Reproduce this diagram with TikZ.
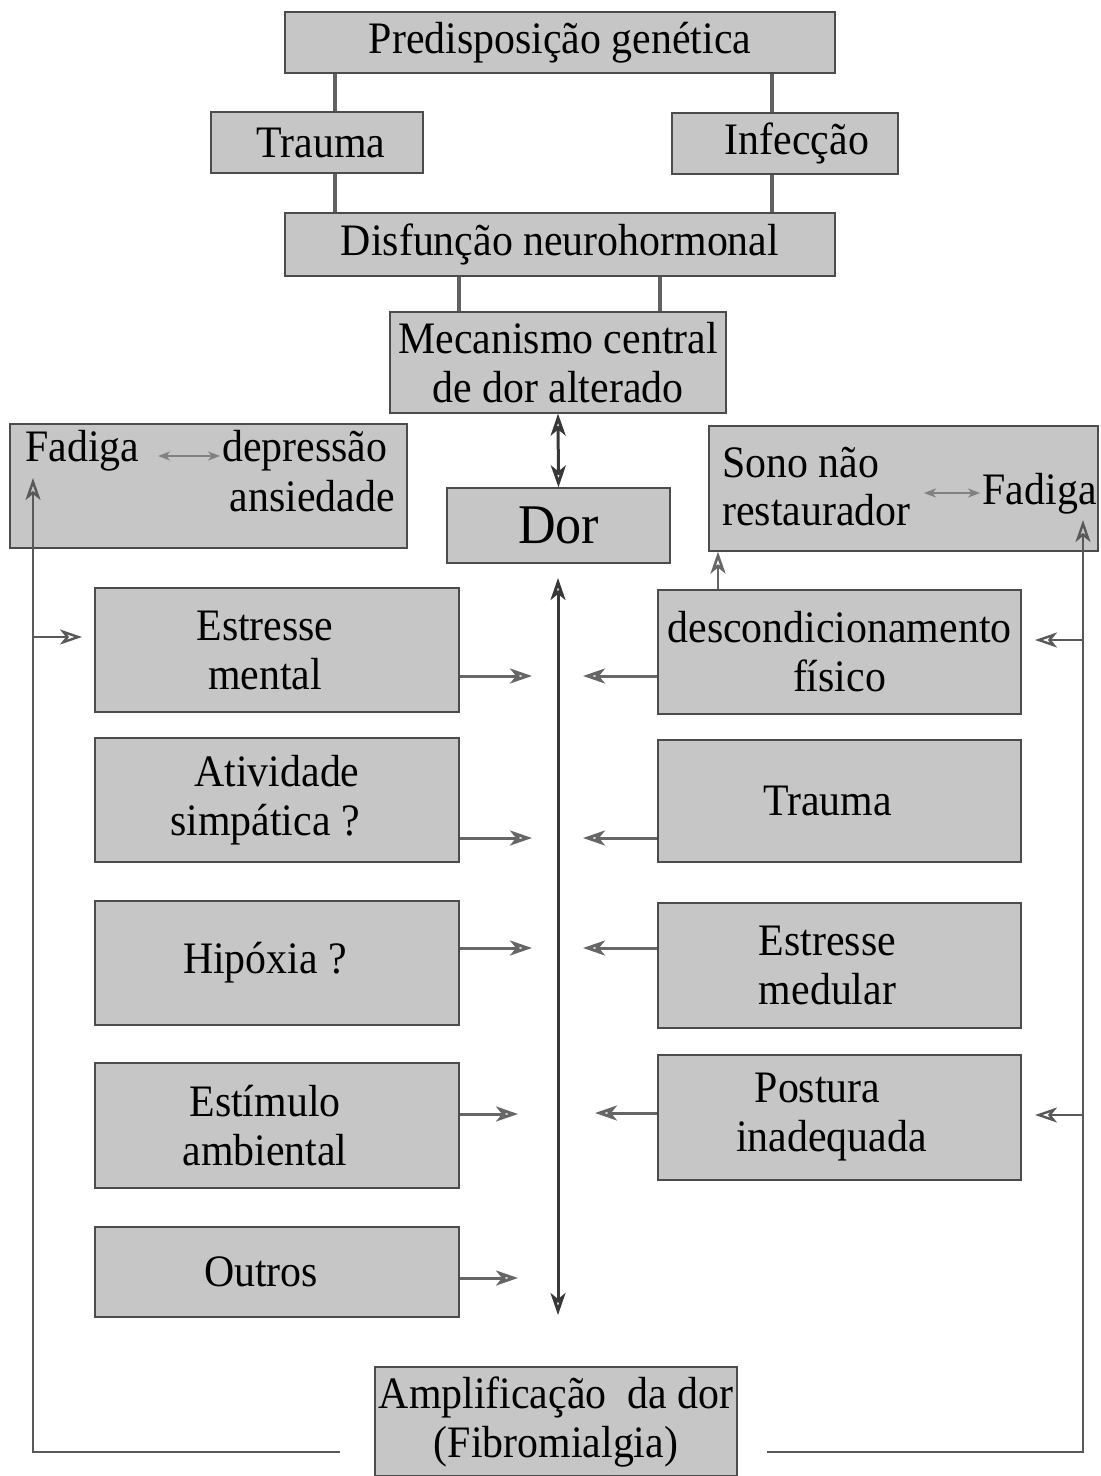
\documentclass[tikz,border=0pt]{standalone}
\usepackage{fontspec}
\setmainfont[FakeStretch=0.93]{Liberation Serif}
\usetikzlibrary{arrows.meta}
\begin{document}
\begin{tikzpicture}[x=0.5pt,y=-0.5pt,
  box/.style={draw=black!70, line width=0.6pt, fill=gray!45, inner sep=0pt, align=center,
              font=\fontsize{22.5}{24.5}\selectfont},
  txt/.style={inner sep=0pt, font=\fontsize{22.5}{24.5}\selectfont},
  link/.style={draw=black!62, line width=2.2pt},
  tip/.style={Stealth[open,length=11pt,width=7.5pt,inset=3pt]},
  stip/.style={Stealth[open,length=6pt,width=4.5pt,inset=1.8pt]},
  arr/.style={draw=black!60, line width=1.5pt, -{Stealth[open,length=11pt,width=7.5pt,inset=3pt]}},
  darr/.style={draw=black!78, line width=1.5pt, {Stealth[open,length=11pt,width=7.5pt,inset=3pt]}-{Stealth[open,length=11pt,width=7.5pt,inset=3pt]}},
  sdarr/.style={draw=black!50, line width=1.1pt, {Stealth[open,length=6pt,width=4.5pt,inset=1.8pt]}-{Stealth[open,length=6pt,width=4.5pt,inset=1.8pt]}},
  fb/.style={draw=black!65, line width=1.2pt},
  fbarr/.style={fb, -{Stealth[open,length=11pt,width=7.5pt,inset=3pt]}}
]
\useasboundingbox (0,0) rectangle (1100,1476);

% top chain
\node[box, minimum width=275pt, minimum height=30.5pt] (pred) at (560,42.5) {Predisposição genética};
\node[box, minimum width=106pt, minimum height=30.5pt] (trauma1) at (317,142.5) {\hspace*{4pt}Trauma};
\node[box, minimum width=113pt, minimum height=30.5pt] (infec) at (785,143.5) {\hspace*{12pt}Infecção};
\node[box, minimum width=275pt, minimum height=31.5pt] (disf) at (560,244.5) {Disfunção neurohormonal};
\node[box, minimum width=168pt, minimum height=50.5pt] (mec) at (558,362.5) {Mecanismo central\\de dor alterado};
\node[box, minimum width=111.5pt, minimum height=37.5pt, font=\fontsize{28}{30}\selectfont] (dor) at (558.5,525.5) {Dor};

\draw[link] (pred.south -| 335,0) -- (trauma1.north -| 335,0);
\draw[link] (trauma1.south -| 335,0) -- (disf.north -| 335,0);
\draw[link] (pred.south -| 772,0) -- (infec.north -| 772,0);
\draw[link] (infec.south -| 772,0) -- (disf.north -| 772,0);
\draw[link] (disf.south -| 459,0) -- (mec.north -| 459,0);
\draw[link] (disf.south -| 660,0) -- (mec.north -| 660,0);
\draw[darr] (mec.south) -- (dor.north);

% side boxes
\node[box, minimum width=198.5pt, minimum height=62pt] (fadl) at (208.5,486) {};
\node[txt, anchor=base west] (fadlA) at (25,461) {Fadiga};
\node[txt, anchor=base west] (fadlB) at (222,461) {depressão};
\node[txt, anchor=base east] (fadlC) at (395,511) {ansiedade};
\coordinate (fa1) at (158,456);
\coordinate (fa2) at (220,456);
\draw[sdarr] (fa1) -- (fa2);

\node[box, minimum width=194.5pt, minimum height=62.5pt] (sono) at (903.5,488.5) {};
\node[txt, anchor=base west] (sonoA) at (722,477) {Sono não};
\node[txt, anchor=base west] (sonoB) at (722,525) {restaurador};
\node[txt, anchor=base east] (sonoC) at (1097,504) {Fadiga};
\coordinate (sa1) at (924,493);
\coordinate (sa2) at (980,493);
\draw[sdarr] (sa1) -- (sa2);

% left column
\node[box, minimum width=182pt, minimum height=62pt] (estm) at (277,650) {\raisebox{-8pt}{\parbox{150pt}{\centering Estresse\\mental}}\hspace*{12pt}};
\node[box, minimum width=182pt, minimum height=62pt] (ativ) at (277,800) {Atividade\\simpática ?\hspace*{12pt}};
\node[box, minimum width=182pt, minimum height=62pt] (hipo) at (277,963) {Hipóxia ?\hspace*{12pt}};
\node[box, minimum width=182pt, minimum height=62.5pt] (estim) at (277,1125.5) {Estímulo\hspace*{12pt}\\ambiental\hspace*{12pt}};
\node[box, minimum width=182pt, minimum height=45pt] (outros) at (277,1272) {Outros\hspace*{16pt}};

% right column
\node[box, minimum width=181.5pt, minimum height=62pt] (desc) at (839.5,652) {descondicionamento\\físico};
\node[box, minimum width=181.5pt, minimum height=61pt] (trauma2) at (839.5,801) {Trauma\hspace*{12pt}};
\node[box, minimum width=181.5pt, minimum height=62.5pt] (estmed) at (839.5,965.5) {Estresse\hspace*{12pt}\\medular\hspace*{12pt}};
\node[box, minimum width=181.5pt, minimum height=62.5pt] (post) at (839.5,1117.5) {Postura\hspace*{22pt}\\inadequada\hspace*{8pt}};

% bottom
\node[box, minimum width=181pt, minimum height=54.5pt] (ampl) at (556,1421.5) {Amplificação\ \ da dor\\(Fibromialgia)};

% central vertical arrow
\coordinate (ct) at (558,578);
\coordinate (cb) at (558,1315);
\draw[darr] (ct) -- (cb);

% horizontal arrows to the centre
\coordinate (l1) at (532,676);
\coordinate (l2) at (532,838);
\coordinate (l3) at (532,948);
\coordinate (l4) at (518,1114);
\coordinate (l5) at (518,1278);
\draw[arr] (estm.east |- l1) -- (l1);
\draw[arr] (ativ.east |- l2) -- (l2);
\draw[arr] (hipo.east |- l3) -- (l3);
\draw[arr] (estim.east |- l4) -- (l4);
\draw[arr] (outros.east |- l5) -- (l5);

\coordinate (r1) at (583,676);
\coordinate (r2) at (583,838);
\coordinate (r3) at (583,948);
\coordinate (r4) at (595,1113);
\draw[arr] (desc.west |- r1) -- (r1);
\draw[arr] (trauma2.west |- r2) -- (r2);
\draw[arr] (estmed.west |- r3) -- (r3);
\draw[arr] (post.west |- r4) -- (r4);

% descondicionamento -> sono
\draw[arr, line width=1.3pt] (desc.north -| 718,0) -- (sono.south -| 718,0);

% feedback loops
\coordinate (fl0) at (340,1452);
\coordinate (fl1) at (33,1452);
\coordinate (fl2) at (33,478);
\draw[fbarr] (fl0) -- (fl1) -- (fl2);
\coordinate (flb) at (33,637);
\coordinate (flt) at (82,637);
\draw[fbarr] (flb) -- (flt);

\coordinate (fr0) at (767,1452);
\coordinate (fr1) at (1083,1452);
\coordinate (fr2) at (1083,520);
\draw[fbarr] (fr0) -- (fr1) -- (fr2);
\coordinate (frb1) at (1083,640);
\coordinate (frt1) at (1035,640);
\draw[fbarr] (frb1) -- (frt1);
\coordinate (frb2) at (1083,1115);
\coordinate (frt2) at (1035,1115);
\draw[fbarr] (frb2) -- (frt2);
\end{tikzpicture}
\end{document}
